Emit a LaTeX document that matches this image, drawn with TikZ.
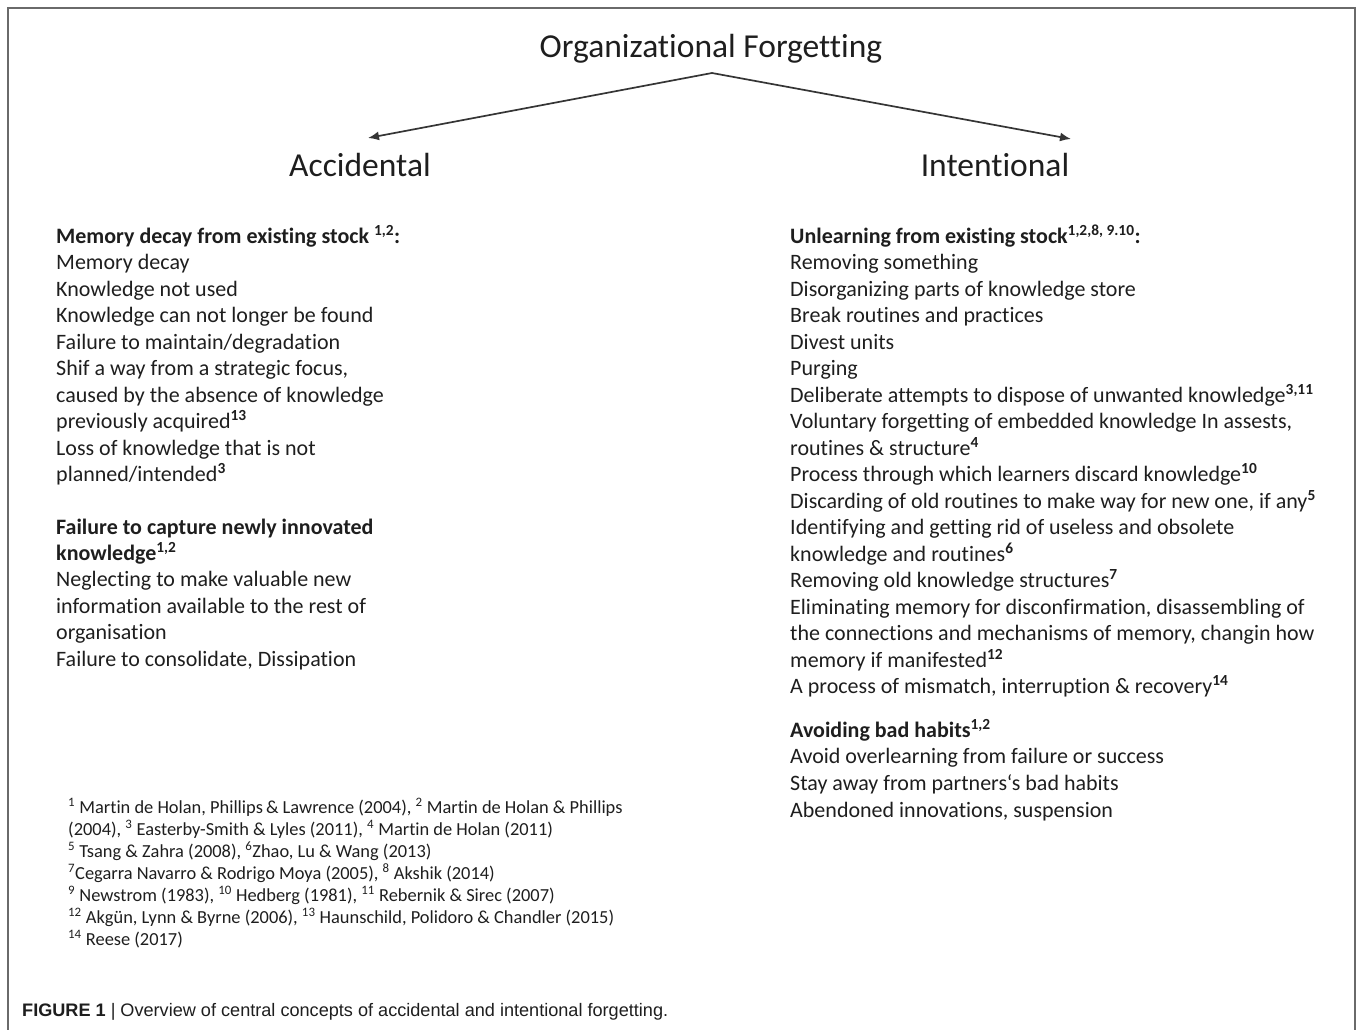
\documentclass[tikz,border=0pt]{standalone}
\usepackage{fontspec}
\setmainfont[Ligatures=NoCommon]{Carlito}
\newfontfamily\capfont{Liberation Sans}
\usetikzlibrary{arrows.meta}
\definecolor{ink}{HTML}{1E1E1E}
\definecolor{framec}{HTML}{6A6A6A}
\begin{document}
\begin{tikzpicture}[x=1pt,y=-1pt,
  body/.style={font=\fontsize{22}{26.5}\selectfont, text=ink, inner sep=0pt, anchor=base west},
  head/.style={body, font=\fontsize{22}{26.5}\selectfont\bfseries},
  big/.style={font=\fontsize{33.5}{40}\selectfont, text=ink, inner sep=0pt, anchor=base},
  refs/.style={font=\fontsize{18.4}{22}\selectfont, text=ink, inner sep=0pt, anchor=base west},
  conn/.style={line width=1.7pt, draw=ink!90, -{Latex[length=11pt,width=9pt]}}]
\useasboundingbox (0,0) rectangle (1357,1029);
\draw[framec, line width=1.5pt] (8,1040) -- (8,8) -- (1355,8) -- (1355,1040);

% title and branches
\node[big] (title) at (711,57) {Organizational Forgetting};
\node[big] (acc) at (360,176) {Accidental};
\node[big] (int) at (995,176) {Intentional};
\coordinate (apex) at (712,73);
\coordinate (ltip) at (368,138);
\coordinate (rtip) at (1071,139);
\draw[conn] (apex) -- (ltip);
\draw[conn] (apex) -- (rtip);

% left column, block 1
\node[head] (l0) at (56,243) {Memory decay from existing stock \textsuperscript{1,2}:};
\foreach \t [count=\i] in {{Memory decay},{Knowledge not used},{Knowledge can not longer be found},
  {Failure to maintain/degradation},{Shif a way from a strategic focus,},
  {caused by the absence of knowledge},{previously acquired\textsuperscript{\bfseries 13}},
  {Loss of knowledge that is not},{planned/intended\textsuperscript{\bfseries 3}}}
  \node[body] (l\i) at (56,{243+26.5*\i}) {\t};

% left column, block 2
\node[head] (m0) at (56,534) {Failure to capture newly innovated};
\node[head] (m1) at (56,560.5) {knowledge\textsuperscript{1,2}};
\foreach \t [count=\i] in {{Neglecting to make valuable new},{information available to the rest of},
  {organisation},{Failure to consolidate, Dissipation}}
  \node[body] (n\i) at (56,{560.5+26.4*\i}) {\t};

% right column, block 1
\node[head] (r0) at (790,243) {Unlearning from existing stock\textsuperscript{1,2,8, 9.10}:};
\foreach \t [count=\i] in {{Removing something},{Disorganizing parts of knowledge store},
  {Break routines and practices},{Divest units},{Purging},
  {Deliberate attempts to dispose of unwanted knowledge\textsuperscript{\bfseries 3,11}},
  {Voluntary forgetting of embedded knowledge In assests,},
  {routines \& structure\textsuperscript{\bfseries 4}},
  {Process through which learners discard knowledge\textsuperscript{\bfseries 10}},
  {Discarding of old routines to make way for new one, if any\textsuperscript{\bfseries 5}},
  {Identifying and getting rid of useless and obsolete},
  {knowledge and routines\textsuperscript{\bfseries 6}},
  {Removing old knowledge structures\textsuperscript{\bfseries 7}},
  {Eliminating memory for disconfirmation, disassembling of},
  {the connections and mechanisms of memory, changin how},
  {memory if manifested\textsuperscript{\bfseries 12}},
  {A process of mismatch, interruption \& recovery\textsuperscript{\bfseries 14}}}
  \node[body] (r\i) at (790,{243+26.5*\i}) {\t};

% right column, block 2
\node[head] (s0) at (790,737) {Avoiding bad habits\textsuperscript{1,2}};
\foreach \t [count=\i] in {{Avoid overlearning from failure or success},
  {Stay away from partners‘s bad habits},{Abendoned innovations, suspension}}
  \node[body] (s\i) at (790,{737+26.7*\i}) {\t};

% references
\foreach \t [count=\i from 0] in {
  {\textsuperscript{1} Martin de Holan, Phillips\,\& Lawrence (2004), \textsuperscript{2} Martin de Holan \& Phillips},
  {(2004), \textsuperscript{3} Easterby-Smith \& Lyles (2011), \textsuperscript{4} Martin de Holan (2011)},
  {\textsuperscript{5} Tsang \& Zahra (2008), \textsuperscript{6}Zhao, Lu \& Wang (2013)},
  {\textsuperscript{7}Cegarra Navarro \& Rodrigo Moya (2005), \textsuperscript{8} Akshik (2014)},
  {\textsuperscript{9} Newstrom (1983), \textsuperscript{10} Hedberg (1981), \textsuperscript{11} Rebernik \& Sirec (2007)},
  {\textsuperscript{12} Akgün, Lynn \& Byrne (2006), \textsuperscript{13} Haunschild, Polidoro \& Chandler (2015)},
  {\textsuperscript{14} Reese (2017)}}
  \node[refs] (f\i) at (68,{813+22*\i}) {\t};

% caption
\node[inner sep=0pt, anchor=base west, text=ink] (cap) at (22,1016)
  {\resizebox{646pt}{!}{\capfont\fontsize{17}{20}\selectfont\textbf{FIGURE 1} | Overview of central concepts of accidental and intentional forgetting.}};
\end{tikzpicture}
\end{document}
